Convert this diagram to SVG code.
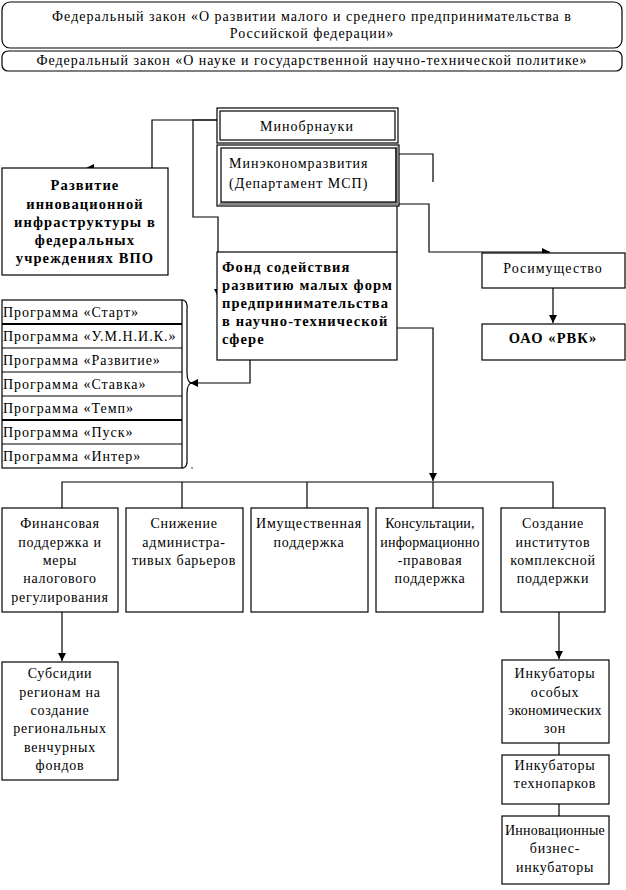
<svg xmlns="http://www.w3.org/2000/svg" width="626" height="890" viewBox="0 0 626 890" font-family="'Liberation Serif', 'Times New Roman', serif">
<defs>
<marker id="arr" viewBox="0 0 8 8" refX="8" refY="4" markerWidth="8" markerHeight="8" markerUnits="userSpaceOnUse" orient="auto">
<path d="M0,0 L8,4 L0,8 Z" fill="#000"/>
</marker>
</defs>
<style>
text{font-family:'Liberation Serif','Times New Roman',serif;font-size:14px;fill:#000;letter-spacing:1px}
.c{text-anchor:middle}
.b{font-weight:bold;font-size:14.5px;letter-spacing:1.1px}
.w{letter-spacing:0.75px}
.t{letter-spacing:0.2px}
.box{fill:#fff;stroke:#000;stroke-width:1.2}
.ln{fill:none;stroke:#000;stroke-width:1.2}
</style>
<rect width="626" height="890" fill="#fff"/>

<g id="law1">
<rect class="box" x="2" y="2" width="620" height="46" rx="8"/>
<text class="c" x="312" y="21">Федеральный закон «О развитии малого и среднего предпринимательства в</text>
<text class="c" x="312" y="38">Российской федерации»</text>
</g>
<g id="law2">
<rect class="box" x="2" y="51" width="620" height="20" rx="6"/>
<text class="c" x="312" y="65">Федеральный закон «О науке и государственной научно-технической политике»</text>
</g>

<g id="connectors">
<polyline class="ln" points="218,120 152,120 152,168"/>
<path d="M94,164 L86,168 L94,171 Z" fill="#000"/>
<polyline class="ln" points="218,120 193,120 193,217 218,217 218,297" marker-end="url(#arr)"/>
<line class="ln" x1="397" y1="206" x2="397" y2="252"/>
<polyline class="ln" points="399,154 433,154 433,182"/>
<polyline class="ln" points="399,204 429,204 429,252 550,252" marker-end="url(#arr)"/>
<line class="ln" x1="553" y1="288" x2="553" y2="323" marker-end="url(#arr)"/>
<polyline class="ln" points="397,328 433,328 433,481" marker-end="url(#arr)"/>
<polyline class="ln" points="250,360 250,383 190,383" marker-end="url(#arr)"/>
<polyline class="ln" points="62,508 62,482 553,482 553,508"/>
<line class="ln" x1="182" y1="482" x2="182" y2="508"/>
<line class="ln" x1="307" y1="482" x2="307" y2="508"/>
<line class="ln" x1="433" y1="482" x2="433" y2="508"/>
<line class="ln" x1="62" y1="612" x2="62" y2="661" marker-end="url(#arr)"/>
<line class="ln" x1="559" y1="612" x2="559" y2="659" marker-end="url(#arr)"/>
<line class="ln" x1="559" y1="743" x2="559" y2="755"/>
<line class="ln" x1="559" y1="804" x2="559" y2="816"/>
<path class="ln" d="M182,300 Q188,300 187,310 L187,372 Q187,383 192,383 Q187,383 187,394 L187,458 Q188,468 182,468"/>
<circle cx="192" cy="468" r="0.7" fill="#000"/>
</g>

<g id="minobr">
<rect class="box" x="217" y="108" width="181" height="35"/>
<rect class="ln" x="220" y="111" width="175" height="29" stroke-width="1"/>
<text class="c" x="307" y="131">Минобрнауки</text>
</g>

<g id="minek">
<rect class="box" x="217" y="145" width="182" height="61"/>
<path d="M395,148 L398,146 L398,205 L218,205 L221,202 L395,202 Z" fill="#888"/>
<rect class="ln" x="221" y="148" width="175" height="54" stroke-width="1"/>
<text x="229" y="168">Минэкономразвития</text>
<text x="229" y="188">(Департамент МСП)</text>
</g>

<g id="razvitie">
<rect class="box" x="2" y="168" width="166" height="107"/>
<text class="c b" x="85" y="190">Развитие</text>
<text class="c b" x="85" y="209">инновационной</text>
<text class="c b" x="85" y="227">инфраструктуры в</text>
<text class="c b" x="85" y="245">федеральных</text>
<text class="c b" x="85" y="263">учреждениях ВПО</text>
</g>

<g id="fond">
<rect class="box" x="217" y="252" width="180" height="108"/>
<text class="b" x="222" y="272">Фонд содействия</text>
<text class="b" x="222" y="290">развитию малых форм</text>
<text class="b" x="222" y="308">предпринимательства</text>
<text class="b" x="222" y="326">в научно-технической</text>
<text class="b" x="222" y="344">сфере</text>
</g>

<g id="programs">
<rect class="box" x="2" y="300" width="180" height="168"/>
<line x1="2" y1="324" x2="182" y2="324" stroke="#000" stroke-width="2"/>
<line x1="2" y1="348" x2="182" y2="348" stroke="#000" stroke-width="1"/>
<line x1="2" y1="372" x2="182" y2="372" stroke="#000" stroke-width="1"/>
<line x1="2" y1="396" x2="182" y2="396" stroke="#000" stroke-width="1"/>
<line x1="2" y1="420" x2="182" y2="420" stroke="#000" stroke-width="2"/>
<line x1="2" y1="444" x2="182" y2="444" stroke="#000" stroke-width="1"/>
<text x="3" y="317">Программа «Старт»</text>
<text x="3" y="341">Программа «У.М.Н.И.К.»</text>
<text x="3" y="365">Программа «Развитие»</text>
<text x="3" y="389">Программа «Ставка»</text>
<text x="3" y="413">Программа «Темп»</text>
<text x="3" y="437">Программа «Пуск»</text>
<text x="3" y="461">Программа «Интер»</text>
</g>

<g id="rosim">
<rect class="box" x="482" y="253" width="143" height="35"/>
<text class="c" x="553" y="273">Росимущество</text>
</g>
<g id="rvk">
<rect class="box" x="482" y="324" width="143" height="36"/>
<text class="c b" x="553" y="343">ОАО «РВК»</text>
</g>

<g id="finance">
<rect class="box" x="2" y="508" width="116" height="104"/>
<text class="c w" x="60" y="528">Финансовая</text>
<text class="c w" x="60" y="547">поддержка и</text>
<text class="c w" x="60" y="565">меры</text>
<text class="c w" x="60" y="583">налогового</text>
<text class="c w" x="60" y="602">регулирования</text>
</g>
<g id="admin">
<rect class="box" x="126" y="508" width="117" height="104"/>
<text class="c w" x="184" y="528">Снижение</text>
<text class="c w" x="184" y="547">администра-</text>
<text class="c w" x="184" y="565">тивых барьеров</text>
</g>
<g id="property">
<rect class="box" x="251" y="508" width="117" height="104"/>
<text class="c w" x="309" y="528">Имущественная</text>
<text class="c w" x="309" y="547">поддержка</text>
</g>
<g id="consult">
<rect class="box" x="376" y="508" width="107" height="104"/>
<text class="c w t" x="430" y="528">Консультации,</text>
<text class="c w t" x="430" y="547">информационно</text>
<text class="c w" x="430" y="565">-правовая</text>
<text class="c w" x="430" y="583">поддержка</text>
</g>
<g id="institutes">
<rect class="box" x="501" y="508" width="104" height="104"/>
<text class="c w" x="553" y="528">Создание</text>
<text class="c w" x="553" y="547">институтов</text>
<text class="c w" x="553" y="565">комплексной</text>
<text class="c w" x="553" y="583">поддержки</text>
</g>

<g id="subsidies">
<rect class="box" x="2" y="662" width="116" height="118"/>
<text class="c w" x="60" y="678">Субсидии</text>
<text class="c w" x="60" y="697">регионам на</text>
<text class="c w" x="60" y="715">создание</text>
<text class="c w" x="60" y="733">региональных</text>
<text class="c w" x="60" y="752">венчурных</text>
<text class="c w" x="60" y="770">фондов</text>
</g>
<g id="inc-sez">
<rect class="box" x="502" y="660" width="107" height="83"/>
<text class="c w" x="555" y="678">Инкубаторы</text>
<text class="c w" x="555" y="697">особых</text>
<text class="c w t" x="555" y="715">экономических</text>
<text class="c w" x="555" y="733">зон</text>
</g>
<g id="inc-tp">
<rect class="box" x="502" y="755" width="107" height="49"/>
<text class="c w" x="555" y="770">Инкубаторы</text>
<text class="c w" x="555" y="788">технопарков</text>
</g>
<g id="inc-biz">
<rect class="box" x="502" y="816" width="107" height="68"/>
<text class="c w t" x="555" y="835">Инновационные</text>
<text class="c w" x="555" y="853">бизнес-</text>
<text class="c w" x="555" y="872">инкубаторы</text>
</g>
</svg>
